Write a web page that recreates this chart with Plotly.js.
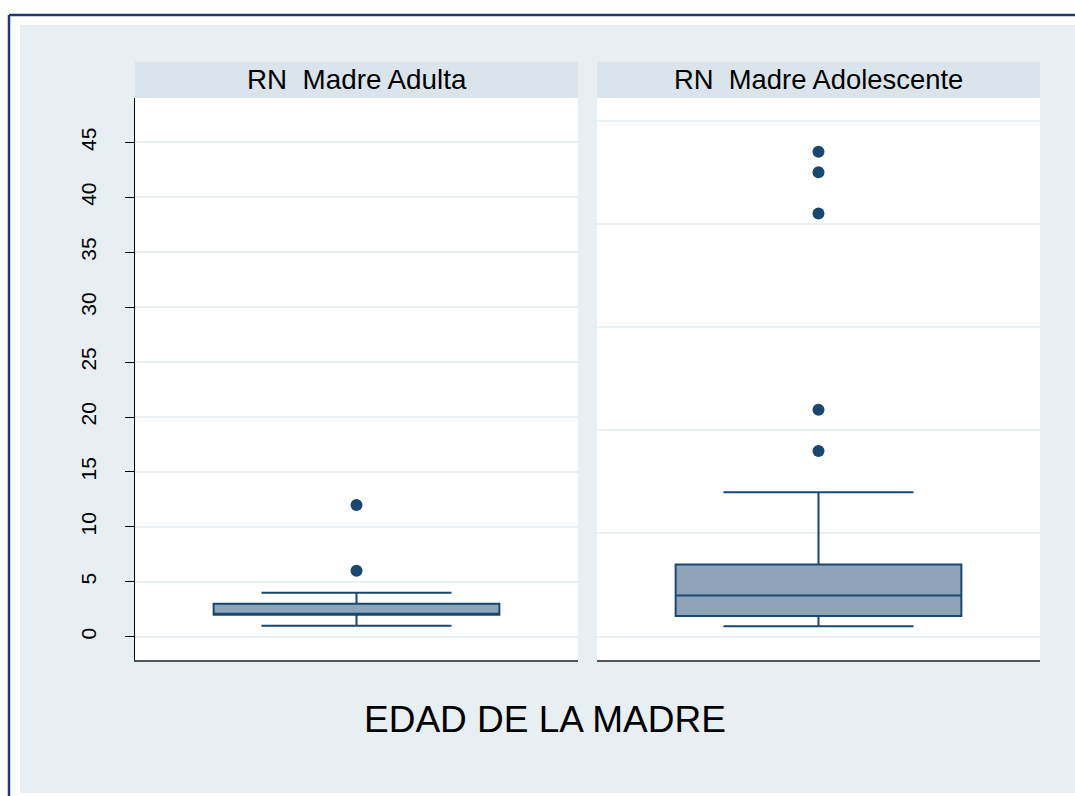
<!DOCTYPE html>
<html>
<head>
<meta charset="utf-8">
<script src="https://cdn.plot.ly/plotly-3.0.1.min.js"></script>
<style>html,body{margin:0;padding:0;background:#fff;}#chart{width:1075px;height:796px;}</style>
</head>
<body>
<div id="chart"></div>
<script>
// ---- data ----
const panels = ["RN\u00A0 Madre Adulta", "RN\u00A0 Madre Adolescente"];
const lowerWhisker = [1, 1];
const q1 = [2, 2];
const median = [2, 4];
const q3 = [3, 7];
const upperWhisker = [4, 14];
const outliersAdulta = [6, 12];
const outliersAdolescente = [18, 22, 41, 45, 47];
const yTicksLeft = [0, 5, 10, 15, 20, 25, 30, 35, 40, 45];
const yTicksRight = [0, 10, 20, 30, 40, 50];
const xTitle = "EDAD DE LA MADRE";

// ---- styling ----
const W = 1075, H = 796;
const navy = "#1A476F";
const boxFill = "#8EA4B8";
const bg = "#E8EFF2";
const stripCol = "#D9E5EB";
const gridCol = "#E9F0F3";
const px = v => v / W;
const py = v => (H - v) / H;

const outliers = [outliersAdulta, outliersAdolescente];
const traces = [];
[0, 1].forEach(i => {
  const xa = i === 0 ? "x" : "x2";
  const ya = i === 0 ? "y" : "y2";
  traces.push({
    type: "box", xaxis: xa, yaxis: ya,
    x: [0],
    q1: [q1[i]], median: [median[i]], q3: [q3[i]],
    lowerfence: [lowerWhisker[i]], upperfence: [upperWhisker[i]],
    boxpoints: false, width: 0.645, whiskerwidth: 0.665,
    fillcolor: boxFill, line: {color: navy, width: 2},
    hoverinfo: "skip", showlegend: false
  });
  traces.push({
    type: "scatter", mode: "markers", xaxis: xa, yaxis: ya,
    x: outliers[i].map(() => 0), y: outliers[i],
    marker: {size: 12, color: navy},
    hoverinfo: "skip", showlegend: false
  });
});

const xCommon = {range: [-0.5, 0.5], showgrid: false, zeroline: false, showticklabels: false,
  ticks: "", showline: true, linecolor: "#555555", linewidth: 1.5, fixedrange: true};

const layout = {
  width: W, height: H,
  margin: {l: 0, r: 0, t: 0, b: 0},
  paper_bgcolor: "#ffffff", plot_bgcolor: "#ffffff",
  font: {family: "Arial, 'Liberation Sans', sans-serif", color: "#000"},
  showlegend: false,
  xaxis: Object.assign({}, xCommon, {domain: [px(135), px(578)], anchor: "y"}),
  xaxis2: Object.assign({}, xCommon, {domain: [px(597), px(1040)], anchor: "y2"}),
  yaxis: {
    domain: [py(660), py(98)], anchor: "x", range: [-2.12, 49.04],
    tickmode: "array", tickvals: yTicksLeft, ticktext: yTicksLeft.map(String),
    tickangle: -90, tickfont: {size: 21, color: "#000"},
    ticks: "outside", ticklen: 9, tickcolor: "#000", tickwidth: 1,
    ticklabelstandoff: 20,
    showline: true, linecolor: "#000", linewidth: 1.2,
    showgrid: true, gridcolor: gridCol, gridwidth: 2, zeroline: false
  },
  yaxis2: {
    domain: [py(660), py(98)], anchor: "x2", range: [-2.26, 52.2],
    tickmode: "array", tickvals: yTicksRight, showticklabels: false, ticks: "",
    showline: false, showgrid: true, gridcolor: gridCol, gridwidth: 2, zeroline: false
  },
  shapes: [
    {type: "rect", xref: "paper", yref: "paper", x0: px(20), x1: 1, y0: py(793), y1: py(25),
     fillcolor: bg, line: {width: 0}, layer: "below"},
    {type: "rect", xref: "paper", yref: "paper", x0: px(135), x1: px(578), y0: py(660), y1: py(98),
     fillcolor: "#ffffff", line: {width: 0}, layer: "below"},
    {type: "rect", xref: "paper", yref: "paper", x0: px(597), x1: px(1040), y0: py(660), y1: py(98),
     fillcolor: "#ffffff", line: {width: 0}, layer: "below"},
    {type: "line", xref: "paper", yref: "paper", x0: px(9), x1: 1, y0: py(15), y1: py(15),
     line: {color: "#1C3A73", width: 2.5}},
    {type: "line", xref: "paper", yref: "paper", x0: px(9), x1: px(9), y0: py(15), y1: 0,
     line: {color: "#1C3A73", width: 2.5}},
    {type: "rect", xref: "paper", yref: "paper", x0: px(135), x1: px(578), y0: py(98), y1: py(62),
     fillcolor: stripCol, line: {width: 0}, layer: "below"},
    {type: "rect", xref: "paper", yref: "paper", x0: px(597), x1: px(1040), y0: py(98), y1: py(62),
     fillcolor: stripCol, line: {width: 0}, layer: "below"}
  ],
  annotations: [
    {xref: "paper", yref: "paper", x: px(356.5), y: py(79), text: panels[0], showarrow: false,
     xanchor: "center", yanchor: "middle", font: {size: 27.8, color: "#000"}},
    {xref: "paper", yref: "paper", x: px(818.5), y: py(79), text: panels[1], showarrow: false,
     xanchor: "center", yanchor: "middle", font: {size: 27.4, color: "#000"}},
    {xref: "paper", yref: "paper", x: px(545), y: py(719), text: xTitle, showarrow: false,
     xanchor: "center", yanchor: "middle", font: {size: 37, color: "#000"}}
  ]
};

Plotly.newPlot("chart", traces, layout, {staticPlot: true, displayModeBar: false});
</script>
</body>
</html>
